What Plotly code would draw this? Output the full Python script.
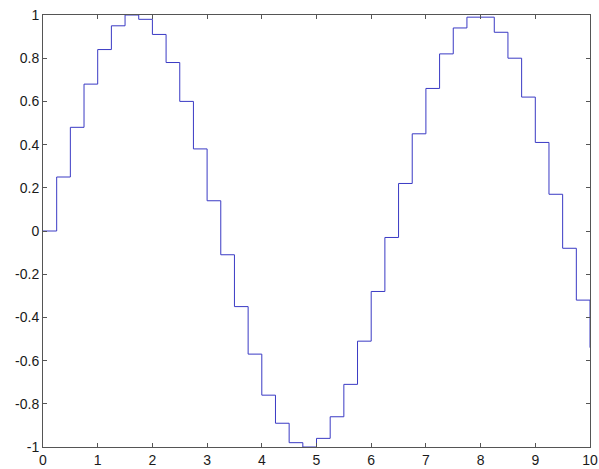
import plotly.graph_objects as go

# sample positions and the step heights
x_vals = [0.0, 0.25, 0.5, 0.75, 1.0, 1.25, 1.5, 1.75, 2.0, 2.25, 2.5, 2.75, 3.0, 3.25,
          3.5, 3.75, 4.0, 4.25, 4.5, 4.75, 5.0, 5.25, 5.5, 5.75, 6.0, 6.25, 6.5, 6.75,
          7.0, 7.25, 7.5, 7.75, 8.0, 8.25, 8.5, 8.75, 9.0, 9.25, 9.5, 9.75, 10.0]
y_vals = [0.00, 0.25, 0.48, 0.68, 0.84, 0.95, 1.00, 0.98, 0.91, 0.78, 0.60, 0.38, 0.14, -0.11,
          -0.35, -0.57, -0.76, -0.89, -0.98, -1.00, -0.96, -0.86, -0.71, -0.51, -0.28, -0.03, 0.22, 0.45,
          0.66, 0.82, 0.94, 0.99, 0.99, 0.92, 0.80, 0.62, 0.41, 0.17, -0.08, -0.32, -0.54]

x_ticks = [0, 1, 2, 3, 4, 5, 6, 7, 8, 9, 10]
y_ticks = [-1, -0.8, -0.6, -0.4, -0.2, 0, 0.2, 0.4, 0.6, 0.8, 1]
y_tick_text = ["-1", "-0.8", "-0.6", "-0.4", "-0.2", "0", "0.2", "0.4", "0.6", "0.8", "1"]

fig = go.Figure()
fig.add_trace(go.Scatter(
    x=x_vals, y=y_vals,
    mode="lines",
    line=dict(shape="hv", color="#3a3ac4", width=1),
    showlegend=False,
))

axis_style = dict(
    showgrid=False, zeroline=False, automargin=False,
    showline=True, linecolor="#555555", linewidth=1, mirror="ticks",
    ticks="inside", ticklen=4, tickcolor="#555555",
    tickfont=dict(family="Liberation Sans, Arial", size=14, color="#1a1a1a"),
)

fig.update_xaxes(range=[0, 10], tickvals=x_ticks, **axis_style)
fig.update_yaxes(range=[-1, 1], tickvals=y_ticks, ticktext=y_tick_text, **axis_style)

fig.update_layout(
    width=599, height=469,
    margin=dict(l=43, r=9, t=15, b=22),
    plot_bgcolor="white", paper_bgcolor="white",
)

# drop the default page margin so the figure sits at the window's corner
fig.write_html("out.html", config={"displayModeBar": False},
               post_script="document.body.style.margin='0';")
